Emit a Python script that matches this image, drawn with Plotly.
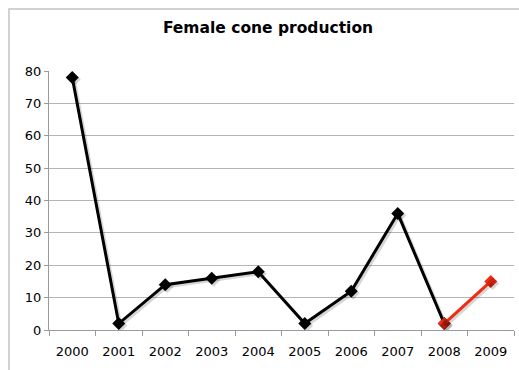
import plotly.graph_objects as go

years = ["2000", "2001", "2002", "2003", "2004", "2005", "2006", "2007", "2008", "2009"]
cones = [78, 2, 14, 16, 18, 2, 12, 36, 2, 15]

# latest pair of years highlighted in red
hist_years, hist_vals = years[:9], cones[:9]
new_years, new_vals = years[8:], cones[8:]

W, H = 519, 370
L, R, T, B = 49, 5, 71, 40
pw, ph = W - L - R, H - T - B

fig = go.Figure()

# soft drop shadow: same data on overlaid axes nudged by a couple of pixels
dx, dy = 2, 2
xr = [-0.5, 9.5]
yr = [0, 80]
xs = (xr[1] - xr[0]) / pw * dx
ys = (yr[1] - yr[0]) / ph * dy
for xv, yv in ((hist_years, hist_vals), (new_years, new_vals)):
    fig.add_trace(go.Scatter(
        x=xv, y=yv, mode="lines+markers", xaxis="x2", yaxis="y2",
        line=dict(color="rgba(0,0,0,0.16)", width=3),
        marker=dict(symbol="diamond", size=10, color="rgba(0,0,0,0.16)"),
        hoverinfo="skip", showlegend=False,
    ))

fig.add_trace(go.Scatter(
    x=hist_years, y=hist_vals, mode="lines+markers",
    line=dict(color="black", width=3),
    marker=dict(symbol="diamond", size=10, color="black"),
    showlegend=False,
))
fig.add_trace(go.Scatter(
    x=new_years, y=new_vals, mode="lines+markers",
    line=dict(color="#f22a12", width=3),
    marker=dict(symbol="diamond", size=10, color="#f22a12"),
    showlegend=False,
))

# outer chart frame (left and top edges visible)
fig.add_shape(type="rect", xref="paper", yref="paper",
              x0=(9 - L) / pw, x1=(W + 20 - L) / pw,
              y0=-(H + 20 - (H - B)) / ph, y1=((H - B) - 9) / ph,
              line=dict(color="#c4c4c4", width=1.5), layer="below")

font = "DejaVu Sans, Verdana, sans-serif"
fig.update_layout(
    width=W, height=H,
    margin=dict(l=L, r=R, t=T, b=B),
    paper_bgcolor="white", plot_bgcolor="white",
    title=dict(text="<b>Female cone production</b>", x=268 / W, xanchor="center",
               y=1 - 28 / H, yanchor="middle",
               font=dict(family=font, size=15.5, color="black")),
    xaxis=dict(type="category", range=xr, showgrid=False,
               categoryorder="array", categoryarray=years,
               showline=True, linecolor="#9a9a9a", linewidth=1,
               ticks="outside", tickson="boundaries", ticklen=5, tickcolor="#9a9a9a",
               ticklabelstandoff=9,
               tickfont=dict(family=font, size=13, color="black"), zeroline=False),
    yaxis=dict(range=yr, dtick=10, showgrid=True, gridcolor="#b4b4b4", gridwidth=1,
               showline=True, linecolor="#9a9a9a", linewidth=1,
               ticks="outside", ticklen=4, tickcolor="#9a9a9a",
               tickfont=dict(family=font, size=13, color="black"), zeroline=False),
    xaxis2=dict(type="category", overlaying="x", range=[xr[0] - xs, xr[1] - xs],
                visible=False, categoryorder="array", categoryarray=years),
    yaxis2=dict(overlaying="y", range=[yr[0] + ys, yr[1] + ys], visible=False),
)

fig.write_html("out.html")
